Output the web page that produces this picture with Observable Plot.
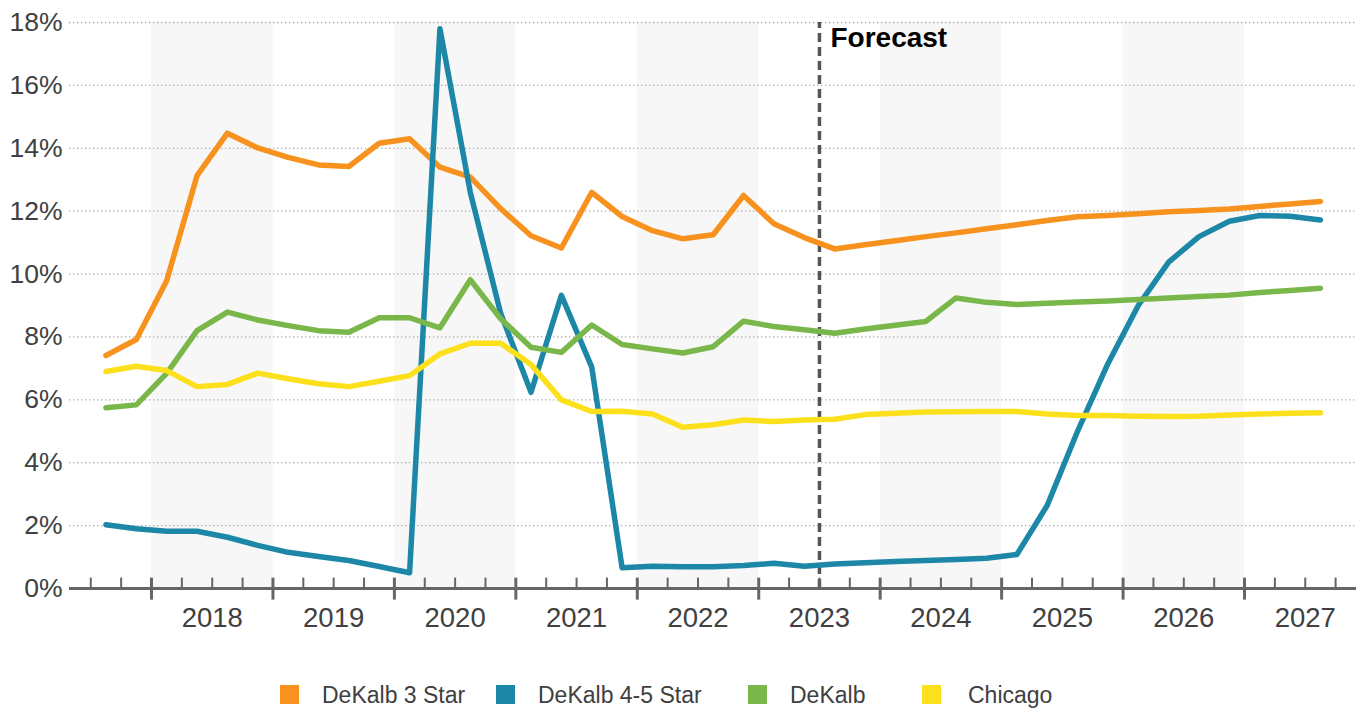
<!DOCTYPE html>
<html><head><meta charset="utf-8">
<script src="https://cdn.jsdelivr.net/npm/d3@7"></script>
<script src="https://cdn.jsdelivr.net/npm/@observablehq/plot@0.6"></script>
<style>
body{margin:0;background:#fff;font-family:"Liberation Sans",Arial,sans-serif;}
#wrap{position:relative;width:1361px;height:711px;overflow:hidden;}
#legend{position:absolute;left:0;top:682px;width:1361px;height:26px;font-size:23px;color:#404040;white-space:nowrap;}
.sw{position:absolute;top:3px;width:19px;height:19px;}
.tx{position:absolute;top:0;line-height:26px;}
</style></head><body><div id="wrap"><div id="chart"></div><div id="legend"></div></div>
<script>
const quarters = [
  "2017Q3","2017Q4",
  "2018Q1","2018Q2","2018Q3","2018Q4",
  "2019Q1","2019Q2","2019Q3","2019Q4",
  "2020Q1","2020Q2","2020Q3","2020Q4",
  "2021Q1","2021Q2","2021Q3","2021Q4",
  "2022Q1","2022Q2","2022Q3","2022Q4",
  "2023Q1","2023Q2","2023Q3","2023Q4",
  "2024Q1","2024Q2","2024Q3","2024Q4",
  "2025Q1","2025Q2","2025Q3","2025Q4",
  "2026Q1","2026Q2","2026Q3","2026Q4",
  "2027Q1","2027Q2","2027Q3"
];
const seriesNames = ["DeKalb 3 Star","DeKalb 4-5 Star","DeKalb","Chicago"];
const seriesColors = ["#f7921e","#1d87a7","#7ab74b","#fde01c"];
const dekalb3Star = [7.41,7.92,9.79,13.13,14.48,14.01,13.71,13.47,13.42,14.16,
  14.30,13.40,13.08,12.08,11.22,10.83,12.60,11.83,11.38,11.12,
  11.25,12.50,11.60,11.16,10.80,10.93,11.06,11.19,11.31,11.44,
  11.57,11.70,11.82,11.86,11.92,11.98,12.02,12.07,12.15,12.23,12.31];
const dekalb45Star = [2.03,1.90,1.82,1.82,1.63,1.37,1.15,1.02,0.89,0.70,
  0.50,17.80,12.60,8.75,6.24,9.32,7.04,0.66,0.71,0.69,
  0.69,0.73,0.80,0.71,0.78,0.82,0.86,0.89,0.92,0.96,
  1.08,2.64,5.00,7.15,9.00,10.38,11.19,11.68,11.86,11.84,11.72];
const dekalb = [5.75,5.84,6.84,8.20,8.79,8.54,8.36,8.20,8.15,8.61,
  8.61,8.29,9.82,8.58,7.67,7.51,8.38,7.76,7.62,7.49,
  7.69,8.50,8.33,8.23,8.12,8.25,8.37,8.49,9.24,9.10,
  9.03,9.07,9.11,9.14,9.19,9.24,9.29,9.33,9.41,9.48,9.55];
const chicago = [6.90,7.07,6.93,6.42,6.49,6.85,6.67,6.51,6.42,6.59,
  6.77,7.46,7.80,7.80,7.12,6.00,5.63,5.64,5.55,5.13,
  5.21,5.36,5.31,5.36,5.38,5.53,5.57,5.61,5.62,5.63,
  5.63,5.55,5.50,5.50,5.48,5.47,5.48,5.52,5.55,5.57,5.59];
const yTicks = [0,2,4,6,8,10,12,14,16,18];
const yearLabels = [2018,2019,2020,2021,2022,2023,2024,2025,2026,2027];
const shadedYears = [2018,2020,2022,2024,2026];
const forecastStart = "2023Q3";

// quarter string -> decimal year (start of quarter)
const qStart = s => +s.slice(0,4) + (+s.slice(5) - 1) / 4;
const qMid = s => qStart(s) + 0.125;

const allSeries = [dekalb3Star, dekalb45Star, dekalb, chicago];
const rows = [];
seriesNames.forEach((name, k) => {
  quarters.forEach((q, i) => rows.push({series: name, x: qMid(q), value: allSeries[k][i]}));
});

const xDomain = [2017.3248, 2027.922];
const minorTicks = [];
for (let t = 2017.5; t <= 2027.76; t += 0.25) if (Math.abs(t - Math.round(t)) > 1e-6) minorTicks.push(t);
const forecastX = qStart(forecastStart);

const chart = Plot.plot({
  width: 1361, height: 660,
  marginLeft: 69, marginRight: 5, marginTop: 22, marginBottom: 72,
  x: {type: "linear", domain: xDomain, axis: null},
  y: {domain: [0, 18], axis: null},
  color: {domain: seriesNames, range: seriesColors},
  style: {fontFamily: "'Liberation Sans', Arial, sans-serif", fontSize: "26px", background: "#fff", overflow: "visible"},
  marks: [
    Plot.rect(shadedYears, {x1: d => d, x2: d => d + 1, y1: 0, y2: 18, fill: "#f7f7f7"}),
    Plot.ruleY(yTicks.filter(d => d > 0), {stroke: "#a8a8a8", strokeWidth: 1.3, strokeDasharray: "1.3,2.7"}),
    Plot.text(yTicks, {y: d => d, frameAnchor: "left", dx: -7, textAnchor: "end", text: d => d + "%", fill: "#404040", fontSize: 26.5}),
    Plot.ruleX([forecastX], {y1: 0, y2: 18, stroke: "#555", strokeWidth: 3.5, strokeDasharray: "9,5"}),
    Plot.text([forecastX], {x: d => d, y: 18, dx: 11, dy: 16, text: () => "Forecast", textAnchor: "start", fontWeight: "bold", fontSize: 28, fill: "#000"}),
    Plot.line(rows, {x: "x", y: "value", z: "series", stroke: "series", strokeWidth: 5.5, strokeLinejoin: "round"}),
    Plot.ruleY([0], {stroke: "#666", strokeWidth: 3}),
    Plot.ruleX(yearLabels, {y1: -0.37, y2: 0.33, stroke: "#666", strokeWidth: 3}),
    Plot.ruleX(minorTicks, {y1: 0, y2: 0.33, stroke: "#666", strokeWidth: 2}),
    Plot.text(yearLabels, {x: d => d + 0.5, y: 0, dy: 30, text: d => String(d), fill: "#404040", fontSize: 27.5})
  ]
});
document.getElementById("chart").appendChild(chart);

const legend = document.getElementById("legend");
const swatchX = [280, 496, 748, 922];
const textX = [322, 538, 790, 968];
seriesNames.forEach((name, k) => {
  const sw = document.createElement("div"); sw.className = "sw";
  sw.style.left = swatchX[k] + "px"; sw.style.background = seriesColors[k];
  const tx = document.createElement("span"); tx.className = "tx";
  tx.style.left = textX[k] + "px"; tx.textContent = name;
  legend.appendChild(sw); legend.appendChild(tx);
});
</script></body></html>
